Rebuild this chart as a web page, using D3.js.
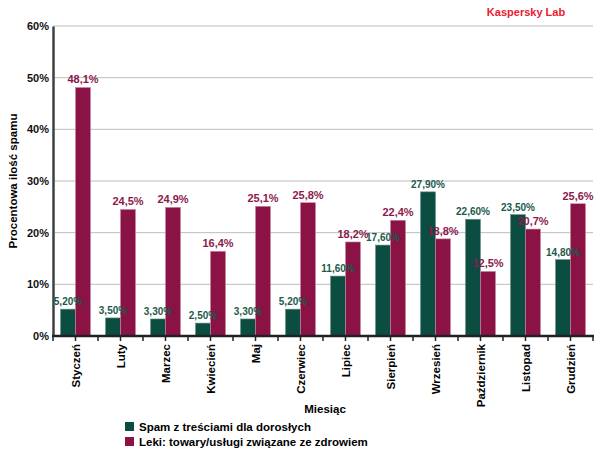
<!DOCTYPE html>
<html><head><meta charset="utf-8">
<script src="https://cdn.jsdelivr.net/npm/d3@7"></script>
<style>body{margin:0;background:#fff}svg{display:block;font-family:"Liberation Sans",Arial,sans-serif}</style>
</head><body><svg id="c" width="600" height="450"></svg>
<script>
const months = ["Styczeń","Luty","Marzec","Kwiecień","Maj","Czerwiec","Lipiec","Sierpień","Wrzesień","Październik","Listopad","Grudzień"];
const adult = [5.2,3.5,3.3,2.5,3.3,5.2,11.6,17.6,27.9,22.6,23.5,14.8];
const meds = [48.1,24.5,24.9,16.4,25.1,25.8,18.2,22.4,18.8,12.5,20.7,25.6];
const yTicks = [0,10,20,30,40,50,60];
const seriesNames = ["Spam z treściami dla dorosłych","Leki: towary/usługi związane ze zdrowiem"];

const svg = d3.select("#c");
const L=53,R=593,T=26,B=336;
const x = d3.scaleBand().domain(months).range([L,R]).padding(0);
const y = d3.scaleLinear().domain([0,60]).range([B,T]);
const green="#0b4d40", red="#8a1245";
const fmtA = v => v.toFixed(2).replace(".",",")+"%";
const fmtM = v => v.toFixed(1).replace(".",",")+"%";

// grid
svg.append("g").selectAll("line").data(yTicks.slice(1)).join("line")
 .attr("x1",L).attr("x2",R).attr("y1",d=>y(d)).attr("y2",d=>y(d))
 .attr("stroke","#bdbdbd").attr("stroke-width",1);

// y axis
const ya = svg.append("g").attr("transform",`translate(${L},0)`)
 .call(d3.axisLeft(y).tickValues(yTicks).tickSize(0).tickPadding(4).tickFormat(d=>d+"%"));
ya.select(".domain").attr("stroke","#404040").attr("stroke-width",2.5);
ya.selectAll("text").attr("font-size",11).attr("font-weight","bold").attr("fill","#111").attr("font-family","Liberation Sans, Arial, sans-serif");

const bw=15;
const gs = svg.append("g").selectAll("g").data(months).join("g");
gs.append("rect").attr("x",d=>x(d)+x.bandwidth()/2-bw).attr("width",bw)
 .attr("y",(d,i)=>y(adult[i])).attr("height",(d,i)=>B-y(adult[i]))
 .attr("fill",green).attr("stroke","#6f9489").attr("stroke-width",0.6);
gs.append("rect").attr("x",d=>x(d)+x.bandwidth()/2).attr("width",bw)
 .attr("y",(d,i)=>y(meds[i])).attr("height",(d,i)=>B-y(meds[i]))
 .attr("fill",red).attr("stroke","#c98aa3").attr("stroke-width",0.6);
gs.append("text").attr("x",d=>x(d)+x.bandwidth()/2-bw/2).attr("y",(d,i)=>y(adult[i])-4)
 .attr("text-anchor","middle").attr("font-size",10).attr("font-weight","bold").attr("fill","#1d5a4a")
 .text((d,i)=>fmtA(adult[i]));
gs.append("text").attr("x",d=>x(d)+x.bandwidth()/2+bw/2).attr("y",(d,i)=>y(meds[i])-4)
 .attr("text-anchor","middle").attr("font-size",11).attr("font-weight","bold").attr("fill","#8a1a4c")
 .text((d,i)=>fmtM(meds[i]));

// x axis
const xa = svg.append("g").attr("transform",`translate(0,${B})`)
 .call(d3.axisBottom(x).tickSize(0).tickPadding(0));
xa.select(".domain").remove();
xa.selectAll("text").attr("transform","rotate(-90)").attr("text-anchor","end")
 .attr("x",-8).attr("y",0).attr("dy","0.35em").attr("font-size",11.5).attr("font-weight","bold")
 .attr("fill","#000").attr("font-family","Liberation Sans, Arial, sans-serif");
const half = d3.scaleLinear().domain([0,months.length*2]).range([L,R]);
svg.append("g").selectAll("line").data(d3.range(months.length*2+1)).join("line")
 .attr("x1",d=>half(d)).attr("x2",d=>half(d)).attr("y1",B).attr("y2",B+5)
 .attr("stroke","#222").attr("stroke-width",1.5);
svg.append("line").attr("x1",L-1).attr("x2",R+1).attr("y1",B).attr("y2",B).attr("stroke","#222").attr("stroke-width",2.5);

// titles
svg.append("text").attr("x",325).attr("y",413).attr("text-anchor","middle")
 .attr("font-size",11.5).attr("font-weight","bold").text("Miesiąc");
svg.append("text").attr("transform","translate(17,181) rotate(-90)").attr("text-anchor","middle")
 .attr("font-size",11.5).attr("font-weight","bold").text("Procentowa ilość spamu");
svg.append("text").attr("x",526).attr("y",16).attr("text-anchor","middle")
 .attr("font-size",11).attr("font-weight","bold").attr("fill","#e8202f").text("Kaspersky Lab");

// legend
const lg = svg.append("g").selectAll("g").data(seriesNames).join("g")
 .attr("transform",(d,i)=>`translate(125,${422+i*15})`);
lg.append("rect").attr("width",9).attr("height",9).attr("fill",(d,i)=>i?red:green);
lg.append("text").attr("x",14).attr("y",8.5).attr("font-size",11.5).attr("font-weight","bold").text(d=>d);
</script></body></html>
